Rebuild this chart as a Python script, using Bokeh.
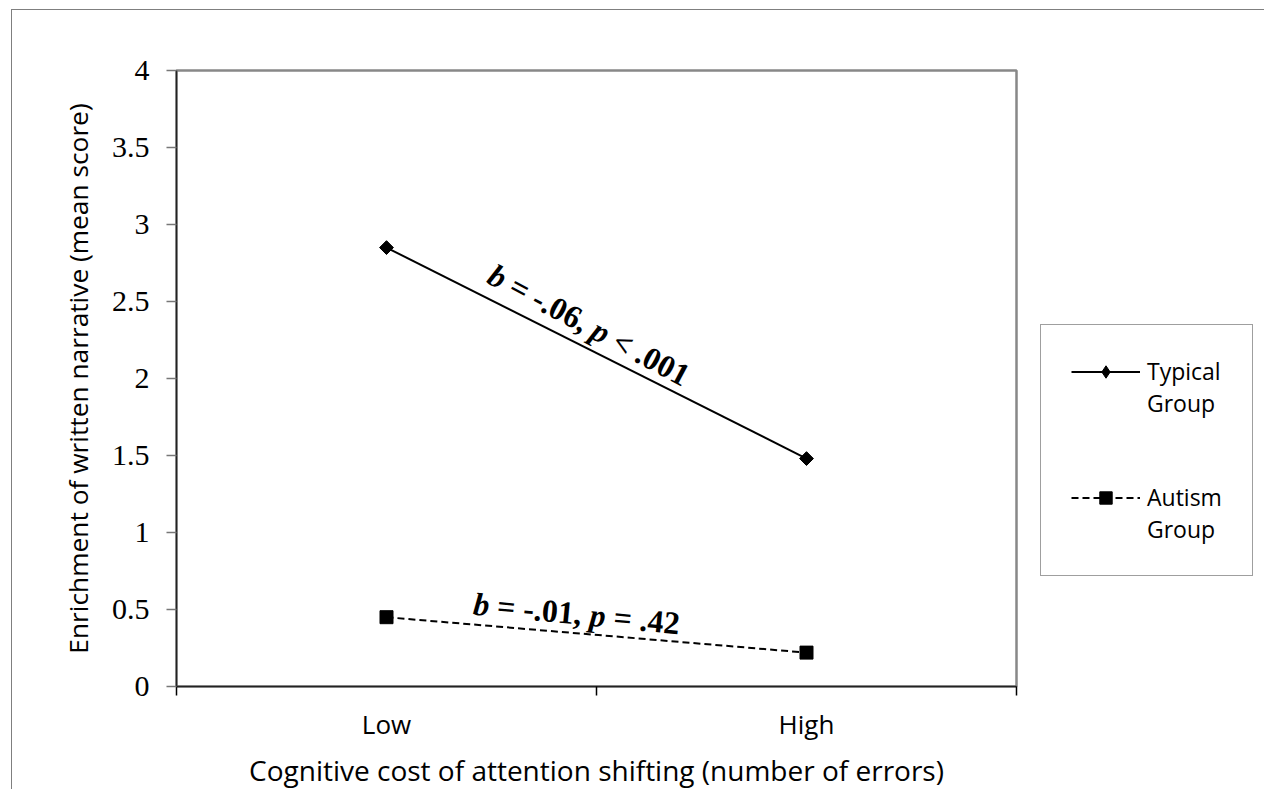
import math
from bokeh.plotting import figure
from bokeh.models import Legend, LegendItem, FixedTicker, Range1d
from bokeh.core.properties import value
from bokeh.embed import file_html
from bokeh.resources import INLINE

# ---- data ----
categories = ["Low", "High"]
typical = [2.85, 1.48]
autism = [0.45, 0.22]
series_names = [["Typical", "Group"], ["Autism", "Group"]]
y_ticks = [0, 0.5, 1, 1.5, 2, 2.5, 3, 3.5, 4]
y_tick_labels = ["0", "0.5", "1", "1.5", "2", "2.5", "3", "3.5", "4"]
x_title = "Cognitive cost of attention shifting (number of errors)"
y_title = "Enrichment of written narrative (mean score)"
# annotation pieces: (text, style, width in em for Times Bold)
annot_typical = [("b", "bold italic", 0.5), ("= -.06,", "bold", 2.653),
                 ("p", "bold italic", 0.5), ("< .001", "bold", 2.570)]
annot_autism = [("b", "bold italic", 0.5), ("= -.01,", "bold", 2.653),
                ("p", "bold italic", 0.5), ("= .42", "bold", 2.070)]

# ---- layout ----
ML, MT, MB = 164, 60, 103
FRAME_W = 840
FRAME_H = 616

x_start, x_end = 0, len(categories)
y_start, y_end = 0, 4
PX_X = FRAME_W / (x_end - x_start)
PX_Y = FRAME_H / (y_end - y_start)

p = figure(frame_width=FRAME_W, frame_height=FRAME_H, output_backend="svg",
           toolbar_location=None,
           x_range=Range1d(x_start, x_end), y_range=Range1d(y_start, y_end),
           min_border_left=ML, min_border_right=10, min_border_top=MT,
           min_border_bottom=MB)
p.styles = {"border-left": "1px solid #7f7f7f", "border-top": "1px solid #7f7f7f",
            "margin-left": "11px", "margin-top": "9px"}
p.background_fill_color = "white"
p.border_fill_color = "white"
p.outline_line_color = "#888888"
p.outline_line_width = 2.5
p.xgrid.visible = False
p.ygrid.visible = False

xs = [i + 0.5 for i in range(len(categories))]

# x axis
p.xaxis.ticker = FixedTicker(ticks=xs, minor_ticks=list(range(len(categories) + 1)))
p.xaxis.major_label_overrides = {x: c for x, c in zip(xs, categories)}
p.xaxis.major_tick_out = 0
p.xaxis.major_tick_in = 0
p.xaxis.minor_tick_out = 9
p.xaxis.minor_tick_in = 0
p.xaxis.minor_tick_line_color = "black"
p.xaxis.minor_tick_line_width = 1.5
p.xaxis.axis_line_color = "#222222"
p.xaxis.axis_line_width = 1.5
p.xaxis.major_label_text_font = "Open Sans"
p.xaxis.major_label_text_font_size = "26px"
p.xaxis.major_label_text_color = "black"
p.xaxis.major_label_standoff = 10
p.xaxis.axis_label = x_title
p.xaxis.axis_label_text_font = "Open Sans"
p.xaxis.axis_label_text_font_size = "28px"
p.xaxis.axis_label_text_font_style = "normal"
p.xaxis.axis_label_text_color = "black"
p.xaxis.axis_label_standoff = 6

# y axis
p.yaxis.ticker = FixedTicker(ticks=y_ticks)
p.yaxis.major_label_overrides = {t: l for t, l in zip(y_ticks, y_tick_labels)}
p.yaxis.major_tick_out = 10
p.yaxis.major_tick_in = 0
p.yaxis.major_tick_line_color = "#777777"
p.yaxis.major_tick_line_width = 1.5
p.yaxis.minor_tick_line_color = None
p.yaxis.axis_line_color = "#222222"
p.yaxis.axis_line_width = 1.5
p.yaxis.major_label_text_font = "Liberation Serif"
p.yaxis.major_label_text_font_size = "30px"
p.yaxis.major_label_text_color = "black"
p.yaxis.major_label_standoff = 17
p.yaxis.axis_label = y_title
p.yaxis.axis_label_text_font = "Open Sans"
p.yaxis.axis_label_text_font_size = "26.3px"
p.yaxis.axis_label_text_font_style = "normal"
p.yaxis.axis_label_text_color = "black"
p.yaxis.axis_label_standoff = 13

# series
l1 = p.line(xs, typical, line_color="black", line_width=2)
m1 = p.scatter(xs, typical, marker="square", size=9.8, angle=math.pi / 4,
               fill_color="black", line_color="black")
# legend-only proxy (legend glyphs are never rotated)
m1_key = p.scatter(xs, typical, marker="diamond", size=15, fill_color="black",
                   line_color="black", visible=False)
l2 = p.line(xs, autism, line_color="black", line_width=2, line_dash="7 4")
m2 = p.scatter(xs, autism, marker="square", size=13, fill_color="black",
               line_color="black")

items = [
    LegendItem(label=value(series_names[0][0]), renderers=[l1, m1_key]),
    LegendItem(label=value(series_names[0][1]), renderers=[]),
    LegendItem(label=value(""), renderers=[]),
    LegendItem(label=value(""), renderers=[]),
    LegendItem(label=value(series_names[1][0]), renderers=[l2, m2]),
    LegendItem(label=value(series_names[1][1]), renderers=[]),
]
legend = Legend(items=items, location=(24, 110))
legend.margin = 0
legend.glyph_width = 69
legend.glyph_height = 31
legend.label_height = 31
legend.label_standoff = 7
legend.padding = 30
legend.spacing = 0
legend.label_text_font = "Open Sans"
legend.label_text_font_size = "23px"
legend.label_text_color = "black"
legend.border_line_color = "#404040"
legend.border_line_width = 1
legend.background_fill_color = "white"
p.add_layout(legend, "right")


def add_annotation(pieces, x0, y0, angle_deg, size=32):
    a = math.radians(angle_deg)
    pos = 0.0
    for text, style, w_em in pieces:
        d = pos * size
        x = x0 + d * math.cos(a) / PX_X
        y = y0 + d * math.sin(a) / PX_Y
        p.text(x=[x], y=[y], text=[text], angle=a,
               text_font=value("Liberation Serif"), text_font_style=style,
               text_font_size=f"{size}px", text_align="left",
               text_baseline="alphabetic", text_color="black")
        pos += w_em + 0.25


add_annotation(annot_typical, 0.748, 2.688, -28)
add_annotation(annot_autism, 0.707, 0.539, -5.5)

open("out.html", "w").write(file_html(p, INLINE))
